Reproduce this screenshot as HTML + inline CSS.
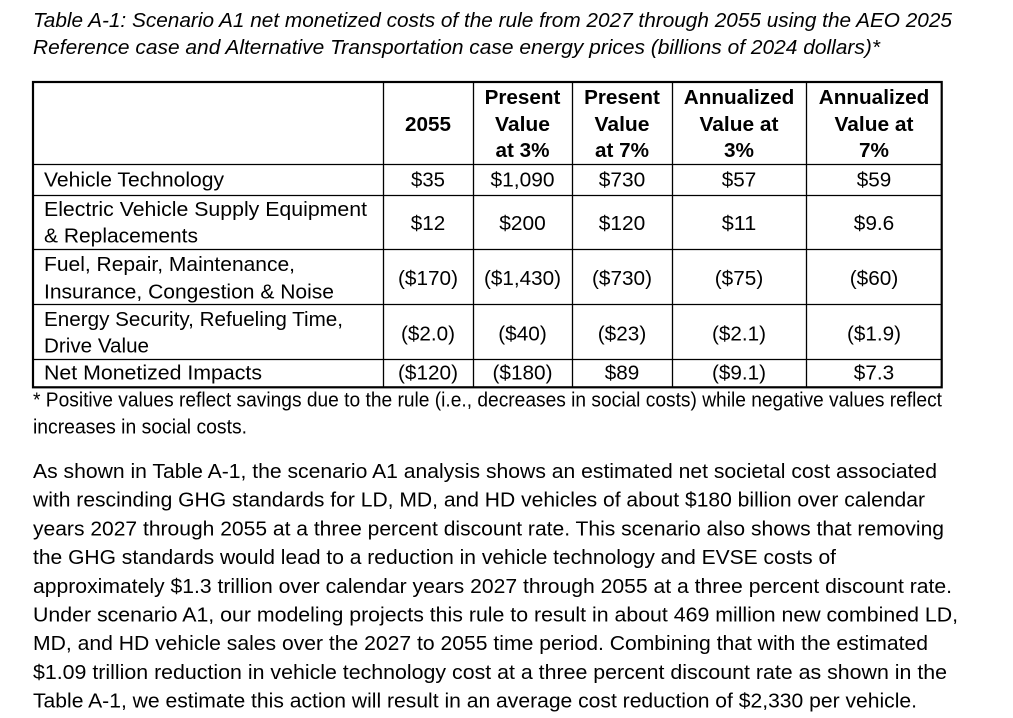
<!DOCTYPE html>
<html>
<head>
<meta charset="utf-8">
<style>
  html, body { margin:0; padding:0; background:#fff; }
  body { width:1013px; height:718px; overflow:hidden; }
  svg { display:block; }
  text { font-family: "Liberation Sans", Arial, sans-serif; fill:#000; }
  .t { font-style: italic; font-size:20px; }
  .b { font-size:20.5px; }
  .h { font-size:20.5px; font-weight:bold; }
  .c { font-size:20.5px; text-anchor:middle; }
  .hc { font-size:20.5px; font-weight:bold; text-anchor:middle; }
</style>
</head>
<body>
<svg width="1013" height="718" viewBox="0 0 1013 718" xmlns="http://www.w3.org/2000/svg">
  <rect x="0" y="0" width="1013" height="718" fill="#fff"/>

  <!-- Title -->
  <text class="t" x="33" y="27" textLength="919" lengthAdjust="spacingAndGlyphs">Table A-1: Scenario A1 net monetized costs of the rule from 2027 through 2055 using the AEO 2025</text>
  <text class="t" x="33" y="54" textLength="847" lengthAdjust="spacingAndGlyphs">Reference case and Alternative Transportation case energy prices (billions of 2024 dollars)*</text>

  <!-- Table grid -->
  <g stroke="#000" fill="none">
    <line x1="383.5" y1="82" x2="383.5" y2="387" stroke-width="1.3"/>
    <line x1="473.5" y1="82" x2="473.5" y2="387" stroke-width="1.3"/>
    <line x1="572.5" y1="82" x2="572.5" y2="387" stroke-width="1.3"/>
    <line x1="672.5" y1="82" x2="672.5" y2="387" stroke-width="1.3"/>
    <line x1="806.5" y1="82" x2="806.5" y2="387" stroke-width="1.3"/>
    <line x1="33" y1="164.5" x2="942" y2="164.5" stroke-width="1.3"/>
    <line x1="33" y1="195.5" x2="942" y2="195.5" stroke-width="1.3"/>
    <line x1="33" y1="249.5" x2="942" y2="249.5" stroke-width="1.3"/>
    <line x1="33" y1="304.5" x2="942" y2="304.5" stroke-width="1.3"/>
    <line x1="33" y1="359.5" x2="942" y2="359.5" stroke-width="1.3"/>
    <rect x="33" y="82" width="908.7" height="305.3" stroke-width="2.2"/>
  </g>

  <!-- Header -->
  <text class="hc" x="428" y="131" textLength="46" lengthAdjust="spacingAndGlyphs">2055</text>

  <text class="hc" x="522.5" y="104" textLength="75.8" lengthAdjust="spacingAndGlyphs">Present</text>
  <text class="hc" x="522.5" y="131" textLength="55" lengthAdjust="spacingAndGlyphs">Value</text>
  <text class="hc" x="522.5" y="157" textLength="54" lengthAdjust="spacingAndGlyphs">at 3%</text>

  <text class="hc" x="622" y="104" textLength="75.8" lengthAdjust="spacingAndGlyphs">Present</text>
  <text class="hc" x="622" y="131" textLength="55" lengthAdjust="spacingAndGlyphs">Value</text>
  <text class="hc" x="622" y="157" textLength="54" lengthAdjust="spacingAndGlyphs">at 7%</text>

  <text class="hc" x="739" y="104" textLength="110.5" lengthAdjust="spacingAndGlyphs">Annualized</text>
  <text class="hc" x="739" y="131" textLength="79" lengthAdjust="spacingAndGlyphs">Value at</text>
  <text class="hc" x="739" y="157" textLength="30" lengthAdjust="spacingAndGlyphs">3%</text>

  <text class="hc" x="874" y="104" textLength="110.5" lengthAdjust="spacingAndGlyphs">Annualized</text>
  <text class="hc" x="874" y="131" textLength="79" lengthAdjust="spacingAndGlyphs">Value at</text>
  <text class="hc" x="874" y="157" textLength="30" lengthAdjust="spacingAndGlyphs">7%</text>

  <!-- Row labels -->
  <text class="b" x="44" y="186.7" textLength="180" lengthAdjust="spacingAndGlyphs">Vehicle Technology</text>
  <text class="b" x="44" y="216" textLength="323" lengthAdjust="spacingAndGlyphs">Electric Vehicle Supply Equipment</text>
  <text class="b" x="44" y="242.7" textLength="154" lengthAdjust="spacingAndGlyphs">&amp; Replacements</text>
  <text class="b" x="44" y="271" textLength="251" lengthAdjust="spacingAndGlyphs">Fuel, Repair, Maintenance,</text>
  <text class="b" x="44" y="298.3" textLength="290" lengthAdjust="spacingAndGlyphs">Insurance, Congestion &amp; Noise</text>
  <text class="b" x="44" y="326" textLength="299" lengthAdjust="spacingAndGlyphs">Energy Security, Refueling Time,</text>
  <text class="b" x="44" y="352.7" textLength="105" lengthAdjust="spacingAndGlyphs">Drive Value</text>
  <text class="b" x="44" y="379.3" textLength="218" lengthAdjust="spacingAndGlyphs">Net Monetized Impacts</text>

  <!-- Row 1 values -->
  <text class="c" x="428" y="186.7" textLength="34" lengthAdjust="spacingAndGlyphs">$35</text>
  <text class="c" x="522.5" y="186.7" textLength="64" lengthAdjust="spacingAndGlyphs">$1,090</text>
  <text class="c" x="622" y="186.7" textLength="46.5" lengthAdjust="spacingAndGlyphs">$730</text>
  <text class="c" x="739" y="186.7" textLength="34.5" lengthAdjust="spacingAndGlyphs">$57</text>
  <text class="c" x="874" y="186.7" textLength="34.5" lengthAdjust="spacingAndGlyphs">$59</text>

  <!-- Row 2 values -->
  <text class="c" x="428" y="230" textLength="34.5" lengthAdjust="spacingAndGlyphs">$12</text>
  <text class="c" x="522.5" y="230" textLength="46.5" lengthAdjust="spacingAndGlyphs">$200</text>
  <text class="c" x="622" y="230" textLength="46.5" lengthAdjust="spacingAndGlyphs">$120</text>
  <text class="c" x="739" y="230" textLength="34.5" lengthAdjust="spacingAndGlyphs">$11</text>
  <text class="c" x="874" y="230" textLength="40.5" lengthAdjust="spacingAndGlyphs">$9.6</text>

  <!-- Row 3 values -->
  <text class="c" x="428" y="285" textLength="60" lengthAdjust="spacingAndGlyphs">($170)</text>
  <text class="c" x="522.5" y="285" textLength="77" lengthAdjust="spacingAndGlyphs">($1,430)</text>
  <text class="c" x="622" y="285" textLength="60" lengthAdjust="spacingAndGlyphs">($730)</text>
  <text class="c" x="739" y="285" textLength="48.5" lengthAdjust="spacingAndGlyphs">($75)</text>
  <text class="c" x="874" y="285" textLength="48.5" lengthAdjust="spacingAndGlyphs">($60)</text>

  <!-- Row 4 values -->
  <text class="c" x="428" y="340.5" textLength="54" lengthAdjust="spacingAndGlyphs">($2.0)</text>
  <text class="c" x="522.5" y="340.5" textLength="48.5" lengthAdjust="spacingAndGlyphs">($40)</text>
  <text class="c" x="622" y="340.5" textLength="48.5" lengthAdjust="spacingAndGlyphs">($23)</text>
  <text class="c" x="739" y="340.5" textLength="54" lengthAdjust="spacingAndGlyphs">($2.1)</text>
  <text class="c" x="874" y="340.5" textLength="54" lengthAdjust="spacingAndGlyphs">($1.9)</text>

  <!-- Row 5 values -->
  <text class="c" x="428" y="379.3" textLength="60" lengthAdjust="spacingAndGlyphs">($120)</text>
  <text class="c" x="522.5" y="379.3" textLength="60" lengthAdjust="spacingAndGlyphs">($180)</text>
  <text class="c" x="622" y="379.3" textLength="34.5" lengthAdjust="spacingAndGlyphs">$89</text>
  <text class="c" x="739" y="379.3" textLength="54" lengthAdjust="spacingAndGlyphs">($9.1)</text>
  <text class="c" x="874" y="379.3" textLength="40.5" lengthAdjust="spacingAndGlyphs">$7.3</text>

  <!-- Footnote -->
  <text class="b" x="33" y="406.7" textLength="909" lengthAdjust="spacingAndGlyphs">* Positive values reflect savings due to the rule (i.e., decreases in social costs) while negative values reflect</text>
  <text class="b" x="33" y="433.3" textLength="214" lengthAdjust="spacingAndGlyphs">increases in social costs.</text>

  <!-- Body paragraph -->
  <text class="b" x="33" y="478" textLength="904" lengthAdjust="spacingAndGlyphs">As shown in Table A-1, the scenario A1 analysis shows an estimated net societal cost associated</text>
  <text class="b" x="33" y="506.7" textLength="892" lengthAdjust="spacingAndGlyphs">with rescinding GHG standards for LD, MD, and HD vehicles of about $180 billion over calendar</text>
  <text class="b" x="33" y="535.4" textLength="911" lengthAdjust="spacingAndGlyphs">years 2027 through 2055 at a three percent discount rate. This scenario also shows that removing</text>
  <text class="b" x="33" y="564.1" textLength="803" lengthAdjust="spacingAndGlyphs">the GHG standards would lead to a reduction in vehicle technology and EVSE costs of</text>
  <text class="b" x="33" y="592.8" textLength="919" lengthAdjust="spacingAndGlyphs">approximately $1.3 trillion over calendar years 2027 through 2055 at a three percent discount rate.</text>
  <text class="b" x="33" y="621.5" textLength="925" lengthAdjust="spacingAndGlyphs">Under scenario A1, our modeling projects this rule to result in about 469 million new combined LD,</text>
  <text class="b" x="33" y="650.2" textLength="895" lengthAdjust="spacingAndGlyphs">MD, and HD vehicle sales over the 2027 to 2055 time period. Combining that with the estimated</text>
  <text class="b" x="33" y="678.9" textLength="914" lengthAdjust="spacingAndGlyphs">$1.09 trillion reduction in vehicle technology cost at a three percent discount rate as shown in the</text>
  <text class="b" x="33" y="707.6" textLength="884" lengthAdjust="spacingAndGlyphs">Table A-1, we estimate this action will result in an average cost reduction of $2,330 per vehicle.</text>
</svg>
</body>
</html>
